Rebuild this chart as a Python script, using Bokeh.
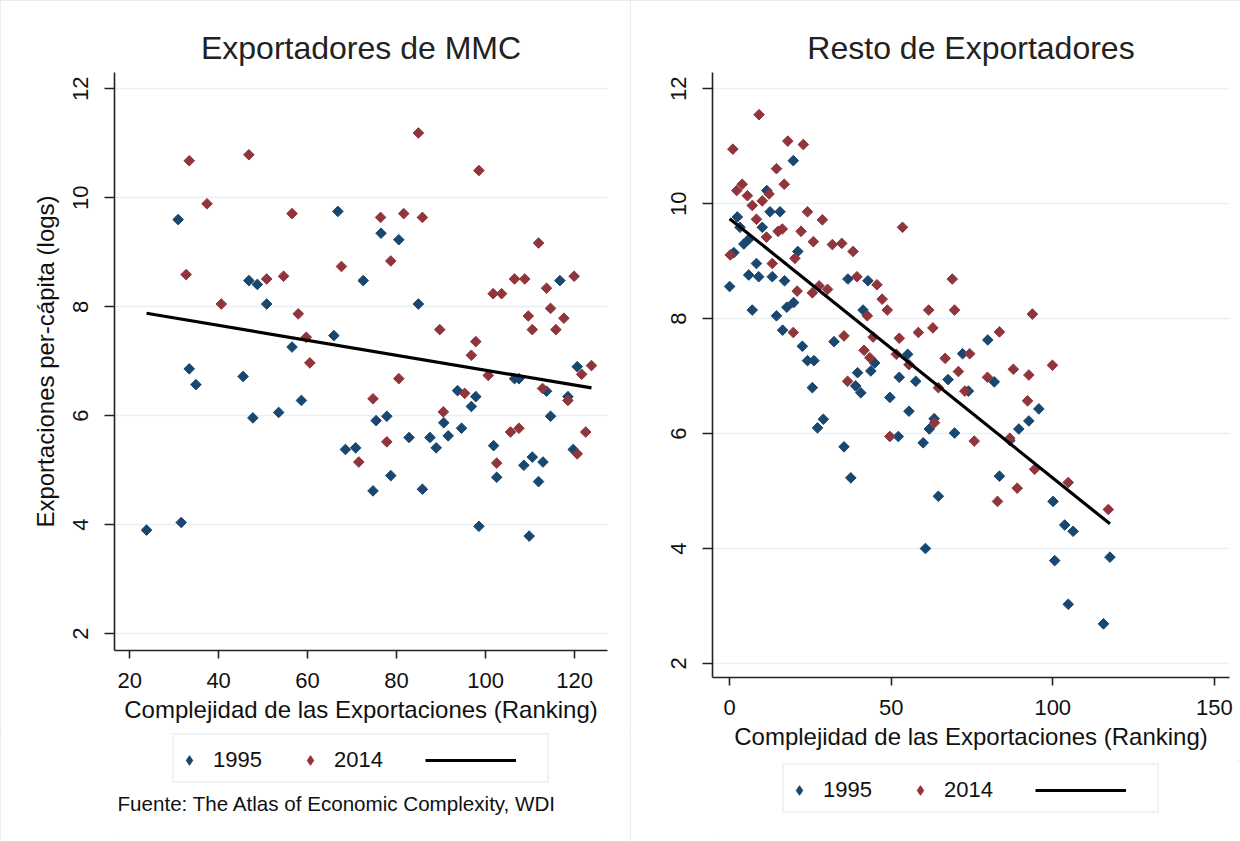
import numpy as np
from bokeh.plotting import figure
from bokeh.layouts import row, column
from bokeh.models import Legend, LegendItem, Label, FixedTicker, Range1d
from bokeh.core.properties import value
from bokeh.embed import file_html
from bokeh.resources import INLINE

# ---------------- data ----------------
# Panel 1: Exportadores de MMC
mmc_1995_x = [30.9, 66.8, 76.5, 80.5, 46.8, 48.7, 72.5, 50.8, 84.9, 116.7, 65.9, 56.5, 33.4, 45.5,
              120.6, 34.9, 93.7, 97.8, 96.8, 106.5, 107.5, 113.7, 118.5, 58.6, 47.7, 53.5, 75.4,
              77.8, 90.6, 91.6, 94.6, 114.6, 82.8, 87.5, 88.9, 68.5, 70.8, 101.8, 119.7, 110.5,
              108.6, 112.9, 102.5, 111.9, 78.7, 74.7, 85.8, 23.8, 31.6, 98.5, 109.8]
mmc_1995_y = [9.60, 9.75, 9.35, 9.23, 8.48, 8.41, 8.48, 8.05, 8.05, 8.48, 7.47, 7.26, 6.86, 6.72,
              6.90, 6.57, 6.46, 6.35, 6.17, 6.68, 6.68, 6.45, 6.35, 6.28, 5.96, 6.06, 5.91,
              5.99, 5.87, 5.63, 5.77, 5.99, 5.60, 5.60, 5.41, 5.38, 5.41, 5.45, 5.38, 5.24,
              5.09, 5.15, 4.87, 4.79, 4.90, 4.62, 4.65, 3.90, 4.04, 3.97, 3.79]
mmc_2014_x = [33.4, 46.8, 84.9, 98.5, 37.4, 56.5, 76.4, 81.6, 85.8, 32.7, 50.8, 54.6, 67.6, 78.7,
              111.9, 101.7, 103.6, 106.5, 108.8, 119.9, 113.7, 114.6, 40.6, 57.9, 109.6, 117.6,
              110.5, 115.8, 89.7, 97.8, 96.8, 59.7, 60.5, 123.8, 121.6, 80.5, 100.6, 95.3,
              112.8, 118.5, 90.5, 74.7, 77.8, 71.5, 105.6, 107.5, 122.5, 120.6, 102.5]
mmc_2014_y = [10.68, 10.79, 11.19, 10.50, 9.89, 9.71, 9.64, 9.71, 9.64, 8.59, 8.51, 8.56, 8.74, 8.84,
              9.17, 8.24, 8.24, 8.51, 8.51, 8.56, 8.34, 7.97, 8.05, 7.87, 7.83, 7.79,
              7.58, 7.58, 7.58, 7.36, 7.11, 7.44, 6.97, 6.92, 6.76, 6.68, 6.74, 6.41,
              6.50, 6.28, 6.07, 6.31, 5.52, 5.15, 5.70, 5.77, 5.70, 5.30, 5.13]
mmc_fit_x = [23.8, 123.8]
mmc_fit_y = [7.88, 6.51]

# Panel 2: Resto de Exportadores
resto_1995_x = [19.7, 11.5, 12.5, 15.6, 2.4, 3.2, 10.1, 4.4, 5.9, 1.3, 21.1, 8.3, 5.9, 9.0, 13.2,
                17.0, 0.0, 36.6, 42.8, 7.0, 14.5, 17.7, 19.8, 41.3, 16.4, 22.5, 24.1, 26.1, 25.6,
                27.2, 29.0, 32.3, 35.4, 37.5, 39.6, 39.0, 40.6, 43.7, 44.9, 49.6, 52.5, 55.5,
                57.6, 55.1, 52.2, 59.9, 61.8, 63.3, 64.6, 60.6, 67.6, 69.6, 72.1, 73.9, 79.9,
                81.9, 83.5, 95.7, 92.6, 89.5, 86.7, 100.1, 103.7, 106.3, 100.6, 117.7, 104.8, 115.7]
resto_1995_y = [10.75, 10.23, 9.86, 9.86, 9.77, 9.59, 9.59, 9.30, 9.38, 9.15, 9.17, 8.96, 8.76, 8.73, 8.73,
                8.66, 8.56, 8.69, 8.66, 8.15, 8.05, 8.20, 8.28, 8.15, 7.80, 7.52, 7.27, 7.27, 6.80,
                6.10, 6.25, 7.60, 5.77, 5.23, 7.06, 6.83, 6.71, 7.09, 7.23, 6.63, 6.98, 6.39,
                6.91, 7.38, 5.95, 5.84, 6.08, 6.26, 4.91, 4.00, 6.94, 6.01, 7.39, 6.74, 7.63,
                6.90, 5.26, 6.43, 6.22, 6.08, 5.88, 4.82, 4.41, 4.30, 3.79, 3.85, 3.03, 2.69]
resto_2014_x = [9.1, 1.0, 18.0, 22.8, 14.5, 16.9, 2.2, 3.9, 5.5, 7.0, 10.1, 12.2, 8.3, 11.4, 15.0,
                16.3, 24.1, 28.7, 22.1, 25.9, 31.8, 34.7, 38.2, 53.5, 0.2, 13.2, 20.2, 20.9, 25.6,
                27.7, 30.3, 39.4, 45.6, 47.2, 48.8, 42.6, 68.9, 61.6, 69.6, 62.9, 19.7, 35.4,
                36.5, 41.6, 43.4, 44.4, 52.5, 51.6, 55.5, 58.4, 49.6, 63.4, 64.6, 66.7, 70.8,
                72.8, 74.3, 75.7, 79.8, 82.9, 83.5, 93.7, 87.8, 92.6, 99.9, 92.2, 86.7, 94.4,
                89.0, 104.8, 117.2]
resto_2014_y = [11.55, 10.95, 11.09, 11.03, 10.61, 10.34, 10.23, 10.34, 10.14, 9.97, 10.05, 10.17, 9.73, 9.42, 9.52,
                9.56, 9.86, 9.72, 9.52, 9.34, 9.29, 9.31, 9.17, 9.59, 9.11, 8.96, 9.05, 8.48, 8.45,
                8.57, 8.51, 8.73, 8.59, 8.34, 8.15, 8.05, 8.69, 8.15, 8.15, 7.84, 7.76, 7.70,
                6.91, 7.45, 7.32, 7.68, 7.66, 7.38, 7.20, 7.76, 5.95, 6.19, 6.80, 7.31, 7.08,
                6.74, 7.39, 5.87, 6.98, 4.82, 7.77, 8.08, 7.12, 7.02, 7.19, 6.57, 5.92, 5.38,
                5.05, 5.15, 4.68]
resto_fit_x = [0.0, 117.7]
resto_fit_y = [9.74, 4.43]

titles = ["Exportadores de MMC", "Resto de Exportadores"]
x_title = "Complejidad de las Exportaciones (Ranking)"
y_title = "Exportaciones per-cápita (logs)"
series_labels = ["1995", "2014"]
y_ticks = [2, 4, 6, 8, 10, 12]
mmc_x_ticks = [20, 40, 60, 80, 100, 120]
resto_x_ticks = [0, 50, 100, 150]
note_text = "Fuente: The Atlas of Economic Complexity, WDI"

# ---------------- style ----------------
FONT = "Liberation Sans"
BLUE = "#1a476f"
RED = "#90353b"
GRID = "#e8f0f2"
EDGE = "#dfe8eb"
TXT = "#111111"
MSIZE = 7.5


def plot_panel(title, xr, yr, xticks, x1, y1, x2, y2, fx, fy, width, height, borders, ylabel):
    bl, br, bt, bb = borders
    p = figure(width=width, height=height, x_range=Range1d(*xr), y_range=Range1d(*yr),
               output_backend="svg", toolbar_location=None,
               min_border_left=bl, min_border_right=br, min_border_top=bt, min_border_bottom=bb)
    p.background_fill_color = "white"
    p.border_fill_color = "white"
    p.outline_line_color = None

    p.title.text = title
    p.title.align = "center"
    p.title.text_font = FONT
    p.title.text_font_size = "32px"
    p.title.text_font_style = "normal"
    p.title.text_color = "#222222"
    p.title.standoff = 14

    p.xgrid.visible = False
    p.ygrid.grid_line_color = GRID
    p.ygrid.grid_line_width = 1.5

    for ax in (p.xaxis[0], p.yaxis[0]):
        ax.axis_line_color = "#222222"
        ax.axis_line_width = 1.6
        ax.major_tick_line_color = "#222222"
        ax.major_tick_line_width = 1.6
        ax.major_tick_in = 0
        ax.minor_tick_line_color = None
        ax.major_label_text_font = FONT
        ax.major_label_text_font_size = "22px"
        ax.major_label_text_color = TXT
        ax.axis_label_text_font = FONT
        ax.axis_label_text_font_size = "24px"
        ax.axis_label_text_font_style = "normal"
        ax.axis_label_text_color = TXT

    p.xaxis.ticker = FixedTicker(ticks=xticks)
    p.yaxis.ticker = FixedTicker(ticks=y_ticks)
    p.xaxis.major_tick_out = 8
    p.yaxis.major_tick_out = 10
    p.xaxis.major_label_standoff = 14
    p.yaxis.major_label_standoff = 16
    p.yaxis.major_label_orientation = "vertical"
    p.xaxis.axis_label = x_title
    p.xaxis.axis_label_standoff = 5
    if ylabel:
        p.yaxis.axis_label = ylabel
        p.yaxis.axis_label_standoff = 12

    p.scatter(x1, y1, marker="square", angle=np.pi / 4, size=MSIZE, fill_color=BLUE, line_color=BLUE)
    p.scatter(x2, y2, marker="square", angle=np.pi / 4, size=MSIZE, fill_color=RED, line_color=RED)
    p.line(fx, fy, line_color="black", line_width=3.2)
    return p


def legend_panel(width, height, borders, box_pos, x1, y1, x2, y2, fx, fy, note=None):
    bl, br = borders
    # the ranges are far from the data, so the key renderers stay out of view:
    # they only lend their styles to the legend entries
    f = figure(width=width, height=height, x_range=Range1d(1000, 1001), y_range=Range1d(1000, 1001),
               x_axis_type=None, y_axis_type=None, output_backend="svg", toolbar_location=None,
               min_border_left=bl, min_border_right=br, min_border_top=0, min_border_bottom=0)
    f.outline_line_color = None
    f.background_fill_color = "white"
    f.border_fill_color = "white"
    k95 = f.scatter(x1, y1, marker="diamond", size=MSIZE, fill_color=BLUE, line_color=BLUE)
    k14 = f.scatter(x2, y2, marker="diamond", size=MSIZE, fill_color=RED, line_color=RED)
    kfit = f.line(fx, fy, line_color="black", line_width=3.2)
    kbox = f.line(fx, fy, line_alpha=0)

    lx, ly = box_pos
    box = Legend(items=[LegendItem(label=value(" "), renderers=[kbox])],
                 location=(lx, ly), orientation="horizontal", margin=0, padding=10,
                 glyph_width=353, glyph_height=26, label_standoff=0, label_width=0,
                 label_height=0, label_text_font_size="1px",
                 border_line_color=EDGE, border_line_width=2,
                 background_fill_color="white", background_fill_alpha=1)
    leg_a = Legend(items=[LegendItem(label=value(series_labels[0]), renderers=[k95]),
                          LegendItem(label=value(series_labels[1]), renderers=[k14])],
                   location=(lx - 5, ly), orientation="horizontal", margin=0, padding=10,
                   spacing=36, glyph_width=24, glyph_height=24, label_standoff=12,
                   label_height=26, label_text_font=FONT, label_text_font_size="22px",
                   label_text_color=TXT, border_line_alpha=0, background_fill_alpha=0)
    leg_b = Legend(items=[LegendItem(label=value(" "), renderers=[kfit])],
                   location=(lx + 243, ly), orientation="horizontal", margin=0, padding=10,
                   glyph_width=91, glyph_height=26, label_standoff=0, label_width=0,
                   label_height=0, label_text_font_size="1px",
                   border_line_alpha=0, background_fill_alpha=0)
    f.add_layout(box)
    f.add_layout(leg_a)
    f.add_layout(leg_b)
    if note:
        f.add_layout(Label(x=3, y=38, x_units="screen", y_units="screen", text=note,
                           text_font=FONT, text_font_size="20.6px", text_color=TXT,
                           text_baseline="middle"))
    return f


p1 = plot_panel(titles[0], (16.6, 127.4), (1.69, 12.3), mmc_x_ticks,
                mmc_1995_x, mmc_1995_y, mmc_2014_x, mmc_2014_y, mmc_fit_x, mmc_fit_y,
                630, 733, (114, 23, 72, 83), y_title)
l1 = legend_panel(630, 108, (114, 23), (58, 58),
                  mmc_1995_x, mmc_1995_y, mmc_2014_x, mmc_2014_y, mmc_fit_x, mmc_fit_y,
                  note=note_text)

p2 = plot_panel(titles[1], (-5.3, 154.7), (1.756, 12.284), resto_x_ticks,
                resto_1995_x, resto_1995_y, resto_2014_x, resto_2014_y, resto_fit_x, resto_fit_y,
                610, 760, (82, 11, 72, 83), None)
l2 = legend_panel(610, 81, (82, 11), (70, 28),
                  resto_1995_x, resto_1995_y, resto_2014_x, resto_2014_y, resto_fit_x, resto_fit_y)

c1 = column(p1, l1, spacing=0)
c2 = column(p2, l2, spacing=0)
c1.styles = {"outline": "2px solid " + EDGE, "outline-offset": "-2px"}
c2.styles = {"outline": "2px solid " + EDGE, "outline-offset": "-2px"}
layout = row(c1, c2, spacing=0)
open("out.html", "w").write(file_html(layout, INLINE))
